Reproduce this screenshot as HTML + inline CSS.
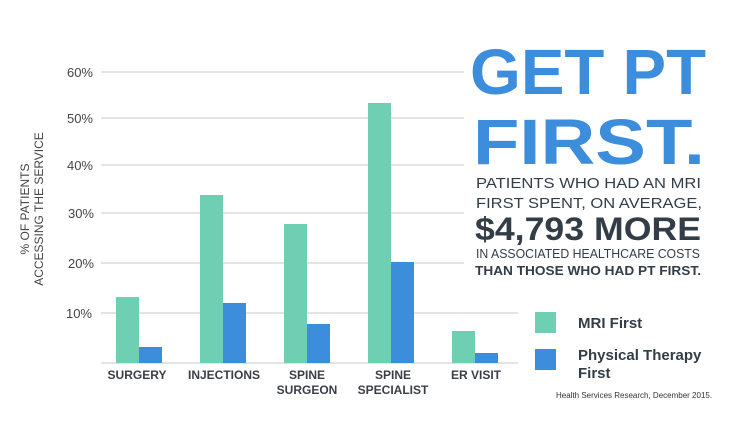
<!DOCTYPE html>
<html><head><meta charset="utf-8"><style>
body{margin:0;background:#fff;}
svg text{font-family:"Liberation Sans",sans-serif;}
</style></head><body>
<svg width="732" height="420" viewBox="0 0 732 420" xmlns="http://www.w3.org/2000/svg">
<g stroke="#dcdcdc" stroke-width="1.5">
<line x1="101" x2="464" y1="72" y2="72"/>
<line x1="101" x2="464" y1="118" y2="118"/>
<line x1="101" x2="464" y1="165" y2="165"/>
<line x1="101" x2="464" y1="213" y2="213"/>
<line x1="101" x2="464" y1="263" y2="263"/>
<line x1="101" x2="518" y1="313" y2="313"/>
<line x1="101" x2="518" y1="363" y2="363"/>
</g>
<g font-size="13" fill="#444" text-anchor="end">
<text x="93" y="77">60%</text>
<text x="93" y="123">50%</text>
<text x="93" y="170">40%</text>
<text x="94" y="218">30%</text>
<text x="94" y="268">20%</text>
<text x="92" y="318">10%</text>
</g>
<g font-size="12" fill="#444" text-anchor="middle">
<text transform="translate(29,209) rotate(-90)">% OF PATIENTS</text>
<text transform="translate(43,209) rotate(-90)">ACCESSING THE SERVICE</text>
</g>
<g fill="#6fcfb2">
<rect x="116" y="297" width="23" height="66"/>
<rect x="200" y="195" width="23" height="168"/>
<rect x="284" y="224" width="23" height="139"/>
<rect x="368" y="103" width="23" height="260"/>
<rect x="452" y="331" width="23" height="32"/>
</g>
<g fill="#3d8ddd">
<rect x="139" y="347" width="23" height="16"/>
<rect x="223" y="303" width="23" height="60"/>
<rect x="307" y="324" width="23" height="39"/>
<rect x="391" y="262" width="23" height="101"/>
<rect x="475" y="353" width="23" height="10"/>
</g>
<g font-size="12" font-weight="bold" fill="#3a3f47" text-anchor="middle">
<text x="137" y="379">SURGERY</text>
<text x="224" y="379">INJECTIONS</text>
<text x="307" y="379">SPINE</text>
<text x="307" y="394">SURGEON</text>
<text x="393" y="379">SPINE</text>
<text x="393" y="394">SPECIALIST</text>
<text x="476" y="379">ER VISIT</text>
</g>
<g font-weight="bold" fill="#3d8ddd">
<text x="470" y="94" font-size="64" textLength="236" lengthAdjust="spacingAndGlyphs">GET PT</text>
<text x="473" y="164" font-size="64" textLength="232" lengthAdjust="spacingAndGlyphs">FIRST.</text>
</g>
<g fill="#333d47">
<text x="476" y="188" font-size="15" textLength="225" lengthAdjust="spacingAndGlyphs">PATIENTS WHO HAD AN MRI</text>
<text x="476" y="208" font-size="15" textLength="226" lengthAdjust="spacingAndGlyphs">FIRST SPENT, ON AVERAGE,</text>
<text x="475" y="240" font-size="32" font-weight="bold" textLength="226" lengthAdjust="spacingAndGlyphs">$4,793 MORE</text>
<text x="476" y="258" font-size="12.5" textLength="224" lengthAdjust="spacingAndGlyphs">IN ASSOCIATED HEALTHCARE COSTS</text>
<text x="475" y="275" font-size="12.5" font-weight="bold" textLength="226" lengthAdjust="spacingAndGlyphs">THAN THOSE WHO HAD PT FIRST.</text>
</g>
<rect x="535" y="312" width="21" height="21" fill="#6fcfb2"/>
<rect x="535" y="349" width="21" height="21" fill="#3d8ddd"/>
<g font-size="15" font-weight="bold" fill="#333d47">
<text x="578" y="328">MRI First</text>
<text x="578" y="360">Physical Therapy</text>
<text x="578" y="378">First</text>
</g>
<text x="556" y="398" font-size="8" fill="#333">Health Services Research, December 2015.</text>
</svg>
</body></html>
